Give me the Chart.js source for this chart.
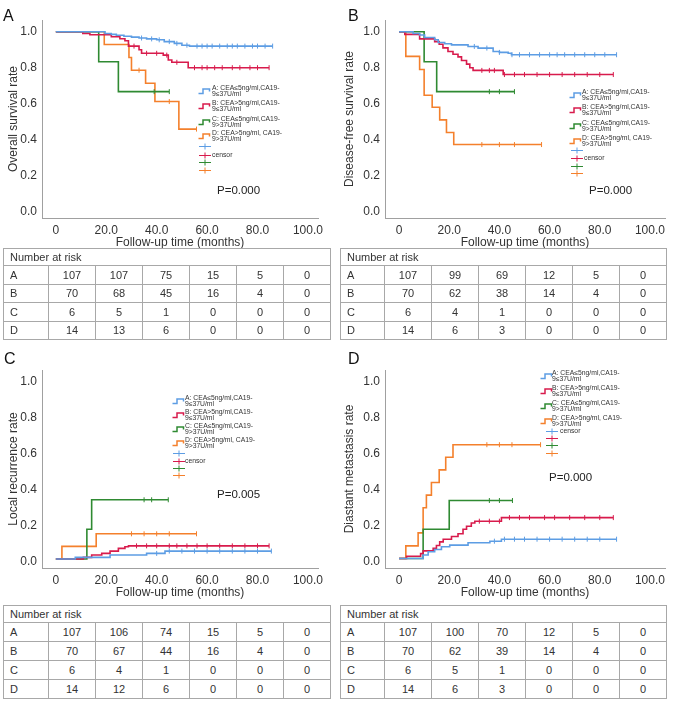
<!DOCTYPE html>
<html>
<head>
<meta charset="utf-8">
<script src="https://cdn.jsdelivr.net/npm/chart.js@4.4.1/dist/chart.umd.min.js"></script>
<style>
  body { margin: 0; background: #fff; }
  #wrap { position: relative; width: 675px; height: 702px; overflow: hidden; font-family: "Liberation Sans", Arial, sans-serif; color: #333; }
  .abs { position: absolute; }
  .letter { font-size: 16px; line-height: 16px; color: #111; }
  .lg { font-size: 6.8px; line-height: 5.4px; color: #333; white-space: nowrap; }
  .pv { font-size: 11.5px; line-height: 12px; color: #222; }
  table { position: absolute; border-collapse: collapse; table-layout: fixed; }
  td { border: 1px solid #a8a8a8; padding: 0; text-align: center; font-size: 11px; color: #333; }
  td.lab { text-align: left; padding-left: 6px; }
  td.hd { text-align: left; padding-left: 6px; }
</style>
</head>
<body>
<div id="wrap">
  <div class="abs" style="left:0;top:0"><canvas id="cOS" width="335" height="250"></canvas></div>
  <div class="abs" style="left:335px;top:0"><canvas id="cDFS" width="340" height="250"></canvas></div>
  <div class="abs" style="left:0;top:350px"><canvas id="cLR" width="335" height="250"></canvas></div>
  <div class="abs" style="left:335px;top:350px"><canvas id="cDM" width="340" height="250"></canvas></div>
</div>
<script>
// ---- datos ----
const xTicks = [0, 20, 40, 60, 80, 100];
const yTicks = [0, 0.2, 0.4, 0.6, 0.8, 1.0];
const grupos = ["A", "B", "C", "D"];
const leyendaTextos = [
  ["A: CEA≤5ng/ml,CA19-", "9≤37U/ml"],
  ["B: CEA>5ng/ml,CA19-", "9≤37U/ml"],
  ["C: CEA≤5ng/ml,CA19-", "9>37U/ml"],
  ["D: CEA>5ng/ml, CA19-", "9>37U/ml"]
];

// A: supervivencia global
const osTimeA = [0, 19.5, 22, 24, 27, 30, 33, 36, 40, 43, 47, 50, 53, 86];
const osValA  = [1, 0.99, 0.985, 0.98, 0.975, 0.97, 0.965, 0.96, 0.955, 0.945, 0.935, 0.925, 0.92, 0.92];
const osTimeB = [0, 10.7, 13.5, 22, 25.4, 27.4, 28.8, 33, 34, 42.6, 44.6, 46, 52.5, 84.6];
const osValB  = [1, 0.99, 0.983, 0.972, 0.961, 0.95, 0.92, 0.9, 0.88, 0.87, 0.843, 0.83, 0.8, 0.8];
const osTimeC = [0, 17, 24.8, 45];
const osValC  = [1, 0.833, 0.667, 0.667];
const osTimeD = [0, 19.2, 29, 30, 35.6, 39.3, 48.8, 55.8];
const osValD  = [1, 0.929, 0.857, 0.786, 0.714, 0.612, 0.459, 0.459];
const osCensA = [34, 38, 41, 45, 48, 52, 56, 58, 60, 62, 65, 68, 70, 72, 75, 78, 80, 83, 86];
const osCensB = [31, 36, 40, 44, 48, 55, 58, 60, 63, 66, 70, 73, 77, 80, 84.6];
const osCensC = [39, 45];
const osCensD = [33, 45, 55.8];

// B: supervivencia libre de enfermedad
const dfsTimeA = [0, 5.6, 8.2, 10.2, 14.2, 15.6, 18.2, 20.9, 27.5, 31.5, 37.5, 40, 43.5, 44.8, 86.7];
const dfsValA  = [1, 0.99, 0.982, 0.968, 0.955, 0.94, 0.933, 0.927, 0.918, 0.909, 0.89, 0.885, 0.88, 0.872, 0.872];
const dfsTimeB = [0, 2.3, 8.2, 14.2, 16, 17.5, 19.5, 21.5, 23.5, 24.9, 26.9, 28.2, 29.5, 41.5, 85.4];
const dfsValB  = [1, 0.985, 0.96, 0.945, 0.93, 0.91, 0.89, 0.875, 0.86, 0.84, 0.82, 0.8, 0.785, 0.762, 0.762];
const dfsTimeC = [0, 10, 15, 46];
const dfsValC  = [1, 0.833, 0.667, 0.667];
const dfsTimeD = [0, 2.7, 8.2, 10, 13.2, 16.2, 18.9, 21.8, 56.8];
const dfsValD  = [1, 0.863, 0.79, 0.647, 0.58, 0.51, 0.44, 0.373, 0.373];
const dfsCensA = [30, 35, 40, 45, 48, 52, 56, 60, 63, 66, 70, 74, 78, 82, 86.7];
const dfsCensB = [33, 36, 38, 42, 46, 50, 55, 60, 65, 70, 75, 80, 85.4];
const dfsCensC = [36, 40, 46];
const dfsCensD = [33, 40, 46, 56.8];

// C: recurrencia local
const lrTimeA = [0, 7.7, 21.5, 36, 43.3, 85.5];
const lrValA  = [0.015, 0.024, 0.037, 0.046, 0.059, 0.059];
const lrTimeB = [0, 10.9, 14.2, 18.2, 21.5, 24.8, 27.4, 28.8, 84.6];
const lrValB  = [0.015, 0.024, 0.037, 0.046, 0.059, 0.074, 0.083, 0.088, 0.088];
const lrTimeC = [0, 12.3, 14.2, 44.6];
const lrValC  = [0.015, 0.18, 0.344, 0.344];
const lrTimeD = [0, 2.4, 16, 55.8];
const lrValD  = [0.015, 0.085, 0.155, 0.155];
const lrCensA = [40, 45, 50, 55, 60, 65, 70, 75, 80, 85.5];
const lrCensB = [32, 36, 40, 45, 48, 52, 56, 60, 65, 70, 75, 80, 84.6];
const lrCensC = [35, 38, 44.6];
const lrCensD = [30, 35, 40, 45, 55.8];

// D: metastasis a distancia
const dmTimeA = [0, 9.6, 11.6, 14.2, 16.9, 20.2, 27.5, 36.2, 40.8, 86.7];
const dmValA  = [0.018, 0.037, 0.055, 0.068, 0.083, 0.092, 0.105, 0.114, 0.125, 0.125];
const dmTimeB = [0, 3, 8.6, 9.6, 13.6, 14.9, 16.2, 17.6, 20.9, 23.5, 25.5, 26.9, 28.8, 30.2, 40.8, 85.4];
const dmValB  = [0.018, 0.03, 0.045, 0.06, 0.075, 0.09, 0.11, 0.125, 0.14, 0.155, 0.18, 0.197, 0.215, 0.225, 0.245, 0.245];
const dmTimeC = [0, 9.6, 20, 45.2];
const dmValC  = [0.018, 0.18, 0.34, 0.34];
const dmTimeD = [0, 2.7, 7.6, 9.6, 10.9, 12.9, 16, 18.6, 21.5, 56.4];
const dmValD  = [0.018, 0.088, 0.16, 0.3, 0.37, 0.44, 0.51, 0.58, 0.65, 0.65];
const dmCensA = [38, 42, 46, 50, 55, 60, 65, 70, 75, 80, 86.7];
const dmCensB = [32, 36, 40, 44, 48, 52, 58, 62, 68, 74, 80, 85.4];
const dmCensC = [36, 40, 45.2];
const dmCensD = [35, 40, 45, 56.4];

// Numero en riesgo
const riesgoOS  = [[107, 107, 75, 15, 5, 0], [70, 68, 45, 16, 4, 0], [6, 5, 1, 0, 0, 0], [14, 13, 6, 0, 0, 0]];
const riesgoDFS = [[107, 99, 69, 12, 5, 0], [70, 62, 38, 14, 4, 0], [6, 4, 1, 0, 0, 0], [14, 6, 3, 0, 0, 0]];
const riesgoLR  = [[107, 106, 74, 15, 5, 0], [70, 67, 44, 16, 4, 0], [6, 4, 1, 0, 0, 0], [14, 12, 6, 0, 0, 0]];
const riesgoDM  = [[107, 100, 70, 12, 5, 0], [70, 62, 39, 14, 4, 0], [6, 5, 1, 0, 0, 0], [14, 6, 3, 0, 0, 0]];

// ---- estilos ----
const colores = ["#5d9de4", "#d81b4c", "#2f8a32", "#f4802c"];
const fuente = '"Liberation Sans", Arial, sans-serif';
Chart.defaults.font.family = fuente;
Chart.defaults.color = "#333";

// valor de la curva escalonada en el tiempo t
function valorEn(ts, vs, t) {
  let v = vs[0];
  for (let i = 0; i < ts.length; i++) if (ts[i] <= t) v = vs[i];
  return v;
}

function crearKM(id, curvas, tituloY, geo) {
  const datasets = [];
  curvas.forEach((c, i) => {
    datasets.push({
      data: c.t.map((t, k) => ({x: t, y: c.v[k]})),
      borderColor: colores[i], borderWidth: 1.6, stepped: true,
      pointRadius: 0, fill: false
    });
    datasets.push({
      data: c.cens.map(t => ({x: t, y: valorEn(c.t, c.v, t)})),
      showLine: false, pointStyle: "line", rotation: 90, pointRadius: 2.5,
      borderColor: colores[i], pointBorderColor: colores[i], pointBorderWidth: 1
    });
  });
  new Chart(document.getElementById(id), {
    type: "line",
    data: {datasets},
    options: {
      responsive: false, animation: false, events: [],
      layout: {padding: {left: 0, right: geo.der, top: 20, bottom: 0}},
      plugins: {legend: {display: false}, tooltip: {enabled: false}},
      scales: {
        x: {
          type: "linear", min: geo.xMin, max: geo.xMax,
          grid: {display: false, drawTicks: false},
          border: {display: true, color: "#a0a0a0", width: 1},
          afterBuildTicks: s => { s.ticks = xTicks.map(v => ({value: v})); },
          afterFit: s => { s.height = 32; },
          ticks: {padding: 5, font: {size: 12}, maxRotation: 0, autoSkip: false,
                  callback: v => v === 0 ? "0" : v.toFixed(1)},
          title: {display: true, text: "Follow-up time (months)", font: {size: 12},
                  padding: {top: 0, bottom: 0.5}}
        },
        y: {
          type: "linear", min: -0.035, max: 1.065,
          grid: {display: false, drawTicks: false},
          border: {display: true, color: "#a0a0a0", width: 1},
          afterBuildTicks: s => { s.ticks = yTicks.map(v => ({value: v})); },
          afterFit: s => { s.width = geo.anchoY; },
          ticks: {padding: 5, font: {size: 12}, callback: v => v.toFixed(1)},
          title: {display: true, text: tituloY, font: {size: 12},
                  padding: {top: geo.padTitY, bottom: 0}}
        }
      }
    }
  });
}

const geoIzq = {der: 17, xMin: -5.5, xMax: 104, anchoY: 42, padTitY: 6};
const geoDer = {der: 10, xMin: -5.6, xMax: 106, anchoY: 50, padTitY: 7};

crearKM("cOS", [
  {t: osTimeA, v: osValA, cens: osCensA}, {t: osTimeB, v: osValB, cens: osCensB},
  {t: osTimeC, v: osValC, cens: osCensC}, {t: osTimeD, v: osValD, cens: osCensD}
], "Overall survival rate", geoIzq);
crearKM("cDFS", [
  {t: dfsTimeA, v: dfsValA, cens: dfsCensA}, {t: dfsTimeB, v: dfsValB, cens: dfsCensB},
  {t: dfsTimeC, v: dfsValC, cens: dfsCensC}, {t: dfsTimeD, v: dfsValD, cens: dfsCensD}
], "Disease-free survival rate", geoDer);
crearKM("cLR", [
  {t: lrTimeA, v: lrValA, cens: lrCensA}, {t: lrTimeB, v: lrValB, cens: lrCensB},
  {t: lrTimeC, v: lrValC, cens: lrCensC}, {t: lrTimeD, v: lrValD, cens: lrCensD}
], "Local recurrence rate", geoIzq);
crearKM("cDM", [
  {t: dmTimeA, v: dmValA, cens: dmCensA}, {t: dmTimeB, v: dmValB, cens: dmCensB},
  {t: dmTimeC, v: dmValC, cens: dmCensC}, {t: dmTimeD, v: dmValD, cens: dmCensD}
], "Diastant metastasis rate", geoDer);

// ---- elementos html: letras, leyendas, valor P, tablas ----
const wrap = document.getElementById("wrap");
function poner(html, x, y) {
  const d = document.createElement("div");
  d.className = "abs";
  d.style.left = x + "px";
  d.style.top = y + "px";
  d.innerHTML = html;
  wrap.appendChild(d);
  return d;
}

function leyenda(g) {
  leyendaTextos.forEach((lineas, i) => {
    const y = g.ys[i];
    poner('<svg width="13" height="7" style="display:block"><polyline points="0.5,5.5 5,5.5 5,1 11.5,1 11.5,3.5" fill="none" stroke="' +
      colores[i] + '" stroke-width="1.5"/></svg>', g.sx, y - 0.5);
    poner('<div class="lg">' + lineas[0] + "<br>" + lineas[1] + "</div>", g.tx, y - 2.7);
  });
  g.cy.forEach((y, i) => {
    poner('<svg width="12" height="7" style="display:block"><path d="M0 3.5H12M6 0.5V6.5" stroke="' +
      colores[i] + '" stroke-width="1" fill="none"/></svg>', g.cx, y - 3.5);
  });
  poner('<div class="lg">censor</div>', g.ctx, g.cy[g.ci] - 2.7);
}

leyenda({sx: 198, tx: 212, ys: [88, 103, 119, 133], cx: 199, cy: [146, 155, 162, 170], ctx: 212, ci: 1});
leyenda({sx: 569, tx: 582, ys: [92, 107, 123, 138], cx: 571, cy: [150, 158, 166, 173], ctx: 584, ci: 1});
leyenda({sx: 172, tx: 185, ys: [398, 412, 426, 440], cx: 173, cy: [453, 461, 468, 475], ctx: 185, ci: 1});
leyenda({sx: 540, tx: 552, ys: [373, 388, 403, 418], cx: 546, cy: [431, 438, 445, 453], ctx: 560, ci: 0});

poner('<div class="pv">P=0.000</div>', 217, 184);
poner('<div class="pv">P=0.000</div>', 589, 184);
poner('<div class="pv">P=0.005</div>', 217, 488);
poner('<div class="pv">P=0.000</div>', 549, 471);

poner('<div class="letter">A</div>', 3, 8);
poner('<div class="letter">B</div>', 348, 8);
poner('<div class="letter">C</div>', 4, 351);
poner('<div class="letter">D</div>', 348, 351);

function tablaRiesgo(filas, x, y, anchoLab, altoFila) {
  let h = '<colgroup><col style="width:' + anchoLab + 'px">' + "<col style=\"width:47px\">".repeat(6) + "</colgroup>";
  h += '<tr style="height:17px"><td class="hd" colspan="7">Number at risk</td></tr>';
  filas.forEach((fila, i) => {
    h += '<tr style="height:' + altoFila + 'px"><td class="lab">' + grupos[i] + "</td>" +
      fila.map(n => "<td>" + n + "</td>").join("") + "</tr>";
  });
  const t = document.createElement("table");
  t.innerHTML = h;
  t.style.left = x + "px";
  t.style.top = y + "px";
  t.style.width = (anchoLab + 6 * 47) + "px";
  wrap.appendChild(t);
}

tablaRiesgo(riesgoOS, 3, 248, 45, 18.5);
tablaRiesgo(riesgoDFS, 340, 248, 44, 18.5);
tablaRiesgo(riesgoLR, 3, 605, 45, 19);
tablaRiesgo(riesgoDM, 340, 605, 44, 19);
</script>
</body>
</html>
